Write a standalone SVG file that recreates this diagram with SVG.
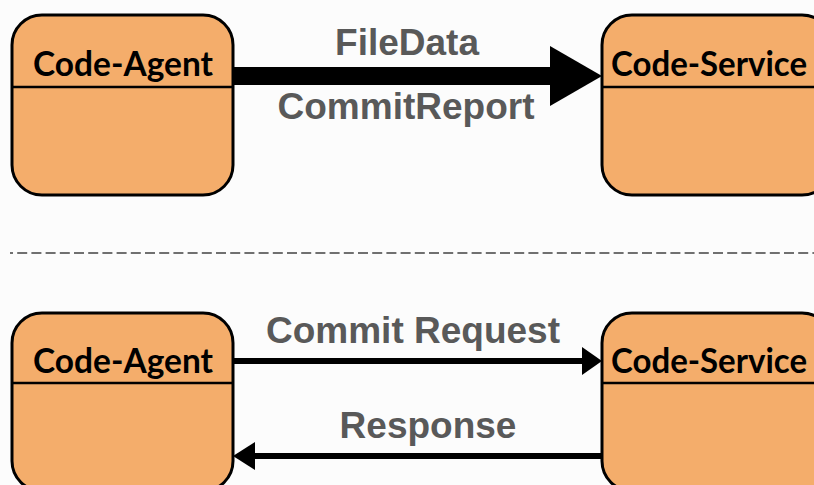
<svg xmlns="http://www.w3.org/2000/svg" width="814" height="485" viewBox="0 0 814 485">
  <style>
    .box { fill: #F4AD6B; stroke: #000; stroke-width: 3; }
    .div { stroke: #000; stroke-width: 2.5; }
    .title { font-family: Lato, "Open Sans", sans-serif; font-weight: bold; font-size: 35px; fill: #000; }
    .lbl { font-family: "Liberation Sans", Arial, sans-serif; font-weight: bold; font-size: 37px; fill: #595959; text-anchor: middle; }
    .line { stroke: #000; fill: none; }
  </style>
  <rect width="814" height="485" fill="#fcfcfc"/>

  <!-- upper exchange -->
  <g id="agent-top">
    <rect class="box" x="12" y="15" width="221" height="180" rx="30"/>
    <line class="div" x1="12" y1="87" x2="233" y2="87"/>
    <text class="title" x="33" y="76" textLength="180" lengthAdjust="spacingAndGlyphs">Code-Agent</text>
  </g>
  <g id="service-top">
    <rect class="box" x="602" y="15" width="230" height="180" rx="30"/>
    <line class="div" x1="602" y1="87" x2="832" y2="87"/>
    <text class="title" x="611" y="76" textLength="196" lengthAdjust="spacingAndGlyphs">Code-Service</text>
  </g>

  <!-- separator -->
  <line x1="10" y1="253" x2="814" y2="253" stroke="#707070" stroke-width="2.2" stroke-dasharray="10 4.2" stroke-dashoffset="7"/>

  <!-- lower exchange -->
  <g id="agent-bottom">
    <rect class="box" x="12" y="313" width="221" height="178" rx="30"/>
    <line class="div" x1="12" y1="383" x2="233" y2="383"/>
    <text class="title" x="33" y="373" textLength="180" lengthAdjust="spacingAndGlyphs">Code-Agent</text>
  </g>
  <g id="service-bottom">
    <rect class="box" x="602" y="313" width="230" height="178" rx="30"/>
    <line class="div" x1="602" y1="383" x2="832" y2="383"/>
    <text class="title" x="611" y="373" textLength="196" lengthAdjust="spacingAndGlyphs">Code-Service</text>
  </g>

  <g id="connectors">
    <!-- bulk transfer -->
    <rect x="233" y="67" width="318" height="18" fill="#000"/>
    <polygon points="550,46 602,76 550,106" fill="#000"/>
    <text class="lbl" x="407" y="55">FileData</text>
    <text class="lbl" x="406" y="119">CommitReport</text>

    <!-- request / response -->
    <line class="line" x1="233" y1="361" x2="583" y2="361" stroke-width="6"/>
    <polygon points="582,347 602,361 582,375" fill="#000"/>
    <text class="lbl" x="413" y="343">Commit Request</text>

    <line class="line" x1="602" y1="456" x2="253" y2="456" stroke-width="6"/>
    <polygon points="255,442 233,456 255,470" fill="#000"/>
    <text class="lbl" x="428" y="438">Response</text>
  </g>
</svg>
